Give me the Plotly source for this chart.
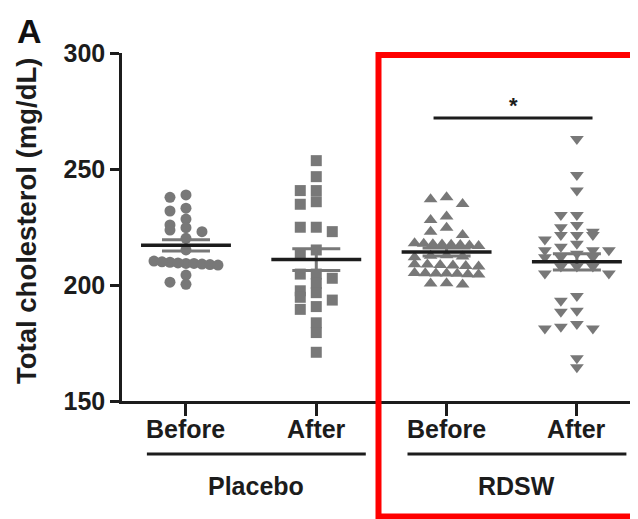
import numpy as np
import plotly.graph_objects as go

# ---------------- data ----------------
categories = ["Before", "After", "Before", "After"]
groups = ["Placebo", "RDSW"]
placebo_before = [238.8, 237.8, 233.1, 231.9, 228.4, 225.9, 224.7, 223.7, 223.0, 220.1,
                  215.1, 210.3, 209.8, 209.3, 209.3, 209.0, 208.8, 209.5, 210.0, 208.6,
                  204.3, 201.2, 200.3]
placebo_after = [253.6, 246.7, 240.7, 240.7, 235.9, 234.8, 224.9, 224.9, 223.0, 215.1,
                 212.9, 204.7, 204.7, 202.9, 200.7, 197.5, 196.7, 194.7, 193.5, 190.7,
                 189.5, 183.7, 179.5, 171.0]
rdsw_before = [237.8, 237.0, 234.9, 229.5, 228.0, 224.7, 223.0, 221.6,
               218.0, 217.6, 217.3, 217.8, 217.0, 217.5, 216.8, 217.2,
               212.8, 212.3, 212.6, 212.0,
               208.8, 208.2, 208.6, 208.0, 208.4, 208.9,
               205.2, 204.8, 205.0, 204.6, 205.1, 205.0, 204.5,
               200.8, 200.2, 200.6]
rdsw_after = [262.9, 247.4, 240.7, 230.2, 230.2, 225.9, 224.9, 223.0, 221.6, 221.6,
              221.6, 219.6, 217.8, 216.5, 215.0, 215.0, 215.0, 213.5, 212.0, 212.0,
              212.0, 208.0, 208.0, 208.0, 205.0, 205.0, 195.3, 193.2, 188.9, 188.5,
              183.2, 182.0, 181.3, 181.3, 168.4, 164.5]
y_ticks = [150, 200, 250, 300]
y_title = "Total cholesterol (mg/dL)"
panel_label = "A"
sig_label = "*"
sig_level = 272

series = [placebo_before, placebo_after, rdsw_before, rdsw_after]
symbols = ["circle", "square", "triangle-up", "triangle-down"]

# ---------------- layout constants ----------------
# the page body has an 8px default margin, so the figure is shrunk by that much
OFF = 8
W, H = 638 - OFF, 519 - OFF
ML, MR, MT = 122 - OFF, 0, 53 - OFF
MB = H - (401 - OFF)
PW, PH = W - ML - MR, H - MT - MB
XMIN, XMAX = -0.491, 3.469
YMIN, YMAX = 150, 300
PX_X = PW / (XMAX - XMIN)
GREY = "#787878"
INK = "#1c1c1c"
FONT = "Liberation Sans, Arial, sans-serif"


def xp(x):
    return (x - XMIN) / (XMAX - XMIN)


def px2xp(px):  # page pixel -> paper x
    return (px - OFF - ML) / PW


def py2yp(py):  # page pixel -> paper y
    return (H - MB - (py - OFF)) / PH


def swarm(vals, bin_units=3.5, step_px=16, max_half_px=32):
    vals = np.asarray(vals, dtype=float)
    order = np.argsort(-vals, kind="stable")
    offs = np.zeros(len(vals))
    bins, cur, start = [], [], None
    for i in order:
        v = vals[i]
        if start is None or start - v >= bin_units:
            if cur:
                bins.append(cur)
            cur, start = [i], v
        else:
            cur.append(i)
    if cur:
        bins.append(cur)
    slots = [0, -1, 1, -2, 2]
    for b in bins:
        n = len(b)
        if n <= 5:
            for k, i in enumerate(b):
                offs[i] = slots[k] * step_px
        else:
            st = 2 * max_half_px / (n - 1)
            for k, i in enumerate(b):
                offs[i] = -max_half_px + k * st
    return offs / PX_X


fig = go.Figure()

for i, vals in enumerate(series):
    x = i + swarm(vals)
    fig.add_trace(go.Scatter(
        x=x, y=vals, mode="markers",
        marker=dict(symbol=symbols[i], size=11 if i < 2 else 12, color=GREY,
                    line=dict(width=0)),
        hoverinfo="skip", showlegend=False))

for i, vals in enumerate(series):
    v = np.asarray(vals)
    m = v.mean()
    sem = v.std(ddof=1) / np.sqrt(len(v))
    fig.add_trace(go.Scatter(
        x=[i], y=[m], mode="markers",
        marker=dict(size=1, color="rgba(0,0,0,0)"),
        error_y=dict(type="data", array=[sem], color=GREY, thickness=3, width=24),
        hoverinfo="skip", showlegend=False))
    fig.add_trace(go.Scatter(
        x=[i - 0.345, i + 0.345], y=[m, m], mode="lines",
        line=dict(color=INK, width=3.5),
        hoverinfo="skip", showlegend=False))

shapes = []
annotations = []

# category labels
for i, c in enumerate(categories):
    annotations.append(dict(xref="paper", yref="paper", x=xp(i), y=py2yp(429),
                            text="<b>%s</b>" % c, showarrow=False,
                            font=dict(family=FONT, size=25, color=INK),
                            xanchor="center", yanchor="middle"))

# significance bar
shapes.append(dict(type="line", xref="x", yref="y", x0=2 - 0.1, x1=3 + 0.12,
                   y0=sig_level, y1=sig_level, line=dict(color=INK, width=3)))
annotations.append(dict(xref="x", yref="y", x=2.51, y=sig_level + 5.5, text="<b>%s</b>" % sig_label,
                        showarrow=False, font=dict(family=FONT, size=22, color=INK),
                        xanchor="center", yanchor="middle"))

# group lines & labels
for g, name in enumerate(groups):
    a, b = 2 * g - 0.3, 2 * g + 1 + 0.38
    shapes.append(dict(type="line", xref="paper", yref="paper",
                       x0=xp(a), x1=xp(b), y0=py2yp(454), y1=py2yp(454),
                       line=dict(color=INK, width=3)))
    annotations.append(dict(xref="paper", yref="paper", x=xp((a + b) / 2), y=py2yp(486),
                            text="<b>%s</b>" % name, showarrow=False,
                            font=dict(family=FONT, size=25, color=INK),
                            xanchor="center", yanchor="middle"))

# y-axis title & panel letter
annotations.append(dict(xref="paper", yref="paper", x=px2xp(26), y=py2yp(221),
                        text="<b>%s</b>" % y_title, textangle=-90, showarrow=False,
                        font=dict(family=FONT, size=27.5, color=INK),
                        xanchor="center", yanchor="middle"))
annotations.append(dict(xref="paper", yref="paper", x=px2xp(29), y=py2yp(31),
                        text="<b>%s</b>" % panel_label, showarrow=False,
                        font=dict(family=FONT, size=34, color="#111"),
                        xanchor="center", yanchor="middle"))

# red highlight box
shapes.append(dict(type="rect", xref="paper", yref="paper",
                   x0=px2xp(378.5), x1=px2xp(635.5), y0=py2yp(516.5), y1=py2yp(55),
                   line=dict(color="#ff0000", width=6), fillcolor="rgba(0,0,0,0)",
                   layer="above"))

fig.update_layout(
    width=W, height=H, autosize=False,
    margin=dict(l=ML, r=MR, t=MT, b=MB, pad=0),
    paper_bgcolor="white", plot_bgcolor="white",
    showlegend=False,
    shapes=shapes, annotations=annotations,
    xaxis=dict(range=[XMIN, XMAX], tickmode="array", tickvals=list(range(len(categories))),
               showticklabels=False, ticks="outside", ticklen=12, tickwidth=2.5,
               tickcolor=INK, showline=True, linecolor=INK, linewidth=2.5,
               showgrid=False, zeroline=False),
    yaxis=dict(range=[YMIN, YMAX], tickmode="array", tickvals=y_ticks,
               ticks="outside", ticklen=9, tickwidth=2.5, tickcolor=INK,
               showline=True, linecolor=INK, linewidth=2.5,
               showgrid=False, zeroline=False,
               tickfont=dict(family=FONT, size=25, color=INK, weight="bold")),
)

fig.write_html("out.html")
